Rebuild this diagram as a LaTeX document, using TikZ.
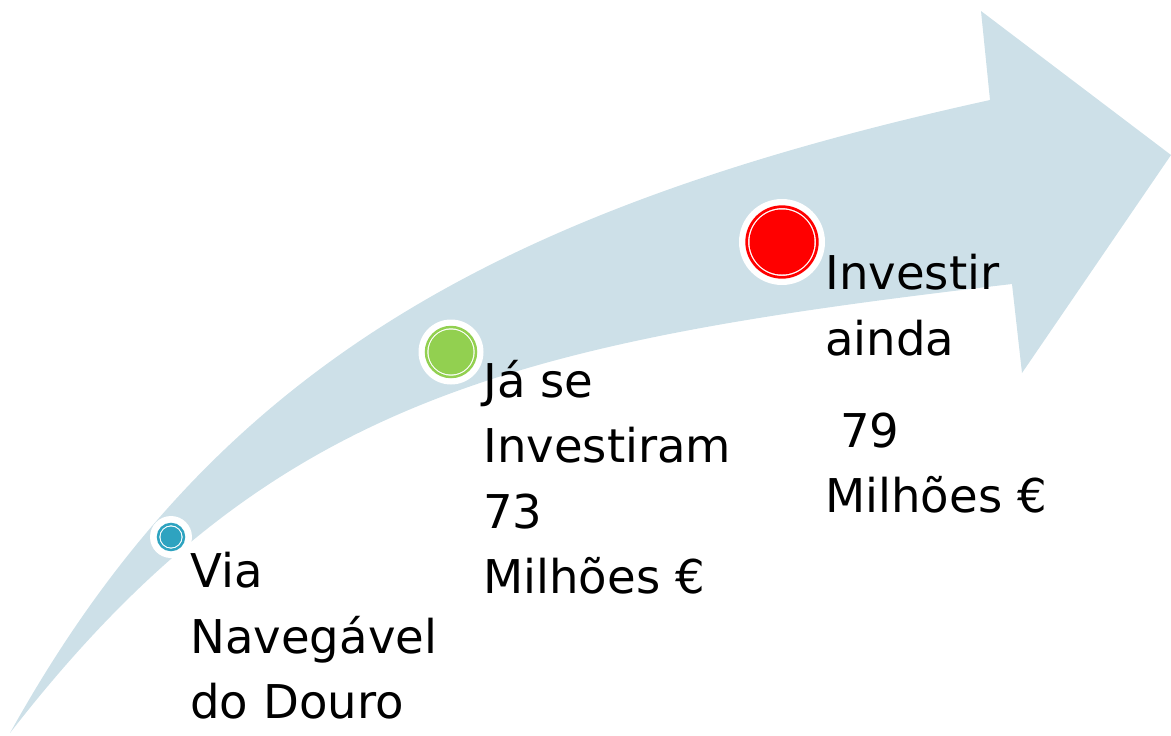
\documentclass[tikz,border=0pt]{standalone}
\usepackage{fontspec}
\setmainfont{DejaVu Sans}
\definecolor{shaft}{RGB}{205,224,232}
\definecolor{dotblue}{RGB}{46,163,192}
\definecolor{dotgreen}{RGB}{146,208,80}
\definecolor{dotred}{RGB}{255,0,0}
\tikzset{stage/.style={anchor=base west, inner sep=0pt, align=left, font=\fontsize{26.5pt}{37pt}\selectfont}}
\begin{document}
\begin{tikzpicture}[x=0.02cm, y=-0.02cm]
		\useasboundingbox (0,0) rectangle (1171,735);
		\fill[shaft] (10,733) .. controls (210,373) and (490,210) .. (990,100)
			-- (981,11) -- (1171,155) -- (1022,373) -- (1012,284)
			.. controls (512,342.5) and (270,398) .. (10,733) -- cycle;
		\fill[white] (171,537) circle (21);
		\draw[dotblue, line width=0.05cm] (171,537) circle (13);
		\fill[dotblue] (171,537) circle (10.5);
		\fill[white] (451,352) circle (32.5);
		\draw[dotgreen, line width=0.05cm] (451,352) circle (25);
		\fill[dotgreen] (451,352) circle (22.5);
		\fill[white] (782,242) circle (43);
		\draw[dotred, line width=0.055cm] (782,242) circle (35.3);
		\fill[dotred] (782,242) circle (32.5);
		\node[stage] (via) at (190,718) {Via\\Navegável\\do Douro};
		\node[stage] (feito) at (483,593) {Já se\\Investiram\\73\\Milhões €};
		\node[stage] (falta) at (825,512) {Investir\\ainda\\[0.54cm]\mbox{ }79\\Milhões €};
	\end{tikzpicture}
\end{document}
